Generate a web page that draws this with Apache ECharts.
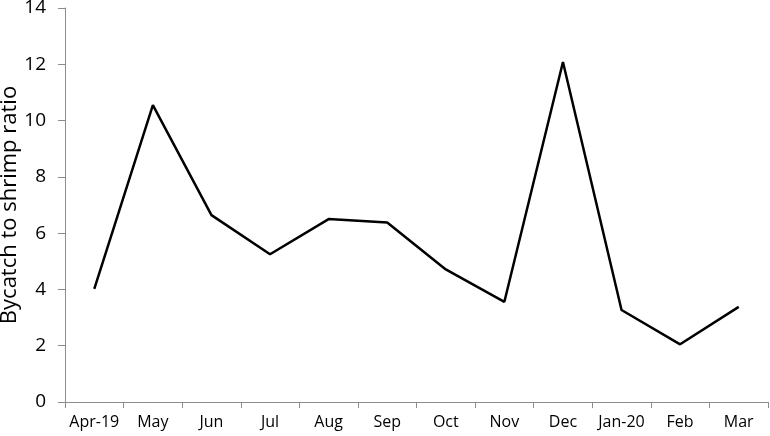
<!DOCTYPE html>
<html>
<head>
<meta charset="utf-8">
<script src="https://cdn.jsdelivr.net/npm/echarts@6/dist/echarts.min.js"></script>
<style>
html,body{margin:0;padding:0;background:#fff;}
#chart{width:770px;height:436px;}
</style>
</head>
<body>
<div id="chart"></div>
<script>
var categories = ['Apr-19','May','Jun','Jul','Aug','Sep','Oct','Nov','Dec','Jan-20','Feb','Mar'];
var ratioValues = [4.02, 10.55, 6.64, 5.25, 6.50, 6.38, 4.71, 3.56, 12.08, 3.27, 2.05, 3.38];
var yAxisName = 'Bycatch to shrimp ratio';

var chart = echarts.init(document.getElementById('chart'), null, {renderer:'canvas'});
var axisColor = '#8c8c8c';
var fontFam = '"Open Sans", "Liberation Sans", sans-serif';
chart.setOption({
  animation: false,
  backgroundColor: '#fff',
  grid: {left: 65, right: 2, top: 8, bottom: 34, containLabel: false, outerBoundsMode: 'none'},
  xAxis: {
    type: 'category',
    data: categories,
    boundaryGap: true,
    axisLine: {show: true, lineStyle: {color: axisColor, width: 1}},
    axisTick: {show: true, inside: false, length: 6, lineStyle: {color: axisColor}},
    axisLabel: {color: '#000', fontSize: 16, fontFamily: fontFam, margin: 12, interval: 0},
    splitLine: {show: false}
  },
  yAxis: {
    type: 'value',
    min: 0, max: 14, interval: 2,
    name: yAxisName,
    nameLocation: 'middle',
    nameGap: 44,
    nameMoveOverlap: false,
    nameTextStyle: {color: '#000', fontSize: 22, fontFamily: fontFam},
    axisLine: {show: true, lineStyle: {color: axisColor, width: 1}},
    axisTick: {show: true, inside: false, length: 7, lineStyle: {color: axisColor}},
    axisLabel: {color: '#000', fontSize: 19, fontFamily: fontFam, margin: 19},
    splitLine: {show: false}
  },
  series: [{
    type: 'line',
    data: ratioValues,
    symbol: 'none',
    lineStyle: {color: '#000', width: 2.5},
    itemStyle: {color: '#000'}
  }]
});
</script>
</body>
</html>
